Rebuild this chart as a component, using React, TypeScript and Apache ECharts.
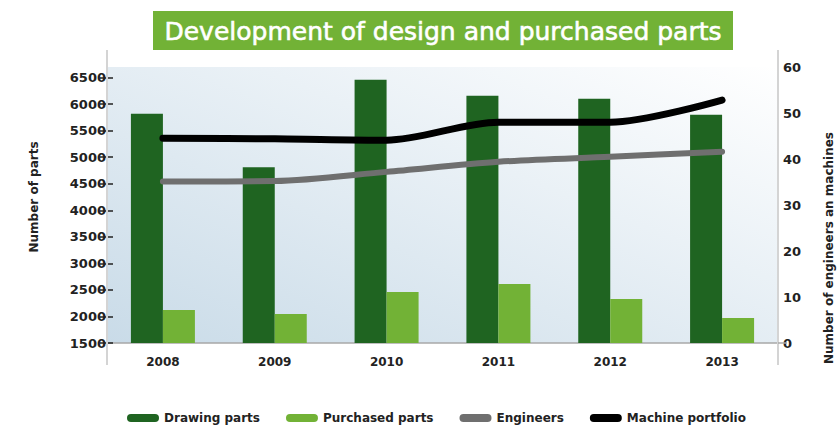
import React, { useEffect, useRef } from "react";
import * as echarts from "echarts";

const years = ["2008", "2009", "2010", "2011", "2012", "2013"];
const drawingParts = [5820, 4810, 6460, 6160, 6100, 5800];
const purchasedParts = [2120, 2045, 2460, 2610, 2330, 1970];
const engineers = [35.1, 35.2, 37.2, 39.4, 40.5, 41.6];
const machinePortfolio = [44.5, 44.4, 44.1, 48.0, 48.0, 52.8];
const partsTicks = [1500, 2000, 2500, 3000, 3500, 4000, 4500, 5000, 5500, 6000, 6500];

const FONT = "DejaVu Sans";
const PILL = "path://M4,0 L28,0 A4,4 0 0 1 28,8 L4,8 A4,4 0 0 1 4,0 Z";

export default function App() {
  const ref = useRef<HTMLDivElement>(null);
  useEffect(() => {
    if (!ref.current) return;
    const chart = echarts.init(ref.current, null, { renderer: "svg" });
    chart.setOption({
      animation: false,
      textStyle: { fontFamily: FONT },
      graphic: [
        { type: "rect", left: 153, top: 11, shape: { width: 580, height: 39 }, style: { fill: "#72b236" }, z: 10 },
        {
          type: "text", x: 443, y: 31, z: 11,
          style: { text: "Development of design and purchased parts", fill: "#ffffff", font: `normal 25px "${FONT}"`, align: "center", verticalAlign: "middle", stroke: "#ffffff", lineWidth: 0.6 },
        },
        {
          type: "text", x: 829, y: 248, rotation: Math.PI / 2, z: 11,
          style: { text: "Number of engineers an machines", fill: "#222", font: `bold 12px "${FONT}"`, align: "center", verticalAlign: "middle" },
        },
        { type: "line", shape: { x1: 107, y1: 50, x2: 107, y2: 365 }, style: { stroke: "#d4d4d4", lineWidth: 2 }, z: 1 },
        { type: "line", shape: { x1: 778, y1: 50, x2: 778, y2: 365 }, style: { stroke: "#d4d4d4", lineWidth: 2 }, z: 1 },
        { type: "line", shape: { x1: 778, y1: 343, x2: 787, y2: 343 }, style: { stroke: "#a8a8a8", lineWidth: 1.5 }, z: 1 },
      ],
      grid: {
        left: 107, right: 59, top: 67, bottom: 83, show: true, borderWidth: 0,
        backgroundColor: new echarts.graphic.LinearGradient(0, 1, 1, 0, [
          { offset: 0, color: "#c9dbe8" },
          { offset: 1, color: "#ffffff" },
        ]),
      },
      legend: {
        left: 122, top: 407, icon: PILL, itemWidth: 32, itemHeight: 8, itemGap: 26,
        textStyle: { fontFamily: FONT, fontSize: 12, fontWeight: "bold", color: "#222" },
        data: ["Drawing parts", "Purchased parts", "Engineers", "Machine portfolio"],
      },
      xAxis: {
        type: "category", data: years,
        axisLine: { lineStyle: { color: "#a8a8a8", width: 1.5 } },
        axisTick: { show: false },
        axisLabel: { margin: 13, fontFamily: FONT, fontSize: 12, fontWeight: "bold", color: "#222" },
      },
      yAxis: [
        {
          type: "value", min: 1500, max: 6700, interval: 500, offset: -6,
          name: "Number of parts", nameLocation: "middle", nameGap: 73,
          nameTextStyle: { fontFamily: FONT, fontSize: 12, fontWeight: "bold", color: "#222", padding: [0, 0, 0, 16] },
          axisLine: { show: false },
          axisTick: { show: true, length: 13, customValues: partsTicks, lineStyle: { color: "#222", width: 1.5 } },
          axisLabel: { margin: 7, customValues: partsTicks, formatter: (v: number) => String(v), fontFamily: FONT, fontSize: 13, fontWeight: "bold", color: "#222" },
          splitLine: { show: false },
        },
        {
          type: "value", min: 0, max: 60, interval: 10, position: "right",
          axisLine: { show: false },
          axisTick: { show: false },
          axisLabel: { margin: 5, fontFamily: FONT, fontSize: 13, fontWeight: "bold", color: "#222" },
          splitLine: { show: false },
        },
      ],
      series: [
        { name: "Drawing parts", type: "bar", data: drawingParts, barWidth: 32, barGap: "0%", itemStyle: { color: "#1f6421" } },
        { name: "Purchased parts", type: "bar", data: purchasedParts, barWidth: 32, barGap: "0%", itemStyle: { color: "#72b236" } },
        {
          name: "Engineers", type: "line", yAxisIndex: 1, data: engineers, smooth: 0.3, showSymbol: false, symbol: "none",
          itemStyle: { color: "#6f6f6f" }, lineStyle: { color: "#6f6f6f", width: 6, cap: "round", join: "round" },
        },
        {
          name: "Machine portfolio", type: "line", yAxisIndex: 1, data: machinePortfolio, smooth: 0.3, showSymbol: false, symbol: "none",
          itemStyle: { color: "#000000" }, lineStyle: { color: "#000000", width: 7, cap: "round", join: "round" },
        },
      ],
    });
    return () => chart.dispose();
  }, []);
  return <div ref={ref} style={{ width: 837, height: 426, position: "absolute", left: 0, top: 0 }} />;
}
